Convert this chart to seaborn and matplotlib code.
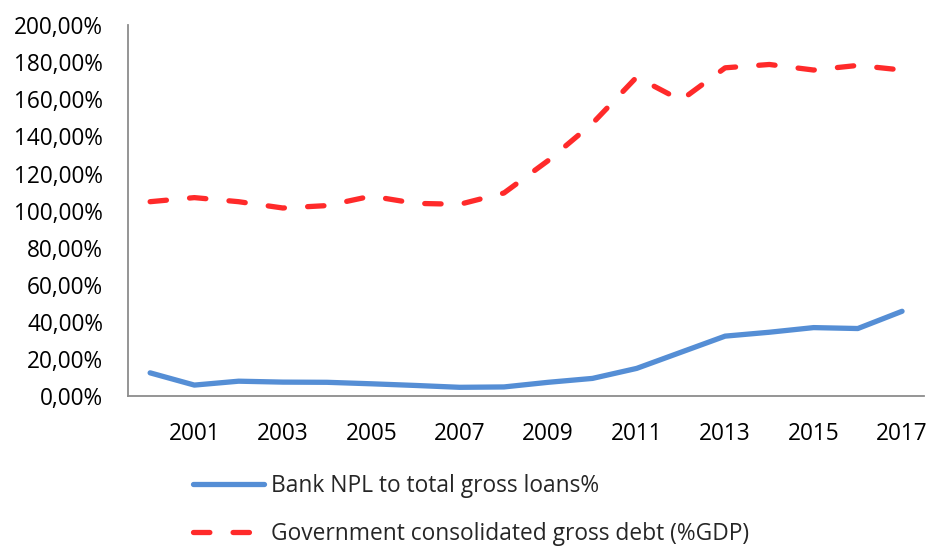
import matplotlib
matplotlib.use("Agg")
import matplotlib.pyplot as plt
import seaborn as sns
import pandas as pd

years = list(range(2000, 2018))
npl = [12.5, 5.9, 8.0, 7.5, 7.4, 6.6, 5.7, 4.7, 4.9, 7.4, 9.5, 14.9, 23.6, 32.3, 34.4, 36.9, 36.4, 45.7]
debt = [104.8, 107.0, 104.8, 101.4, 102.7, 107.8, 103.9, 103.4, 109.5, 127.0, 147.0, 172.0, 159.5, 177.0, 178.8, 175.8, 178.3, 175.8]
label_npl = "Bank NPL to total gross loans%"
label_debt = "Government consolidated gross debt (%GDP)"
yticks = [0, 20, 40, 60, 80, 100, 120, 140, 160, 180, 200]
xticks = [2001, 2003, 2005, 2007, 2009, 2011, 2013, 2015, 2017]

df = pd.DataFrame({"year": years, "npl": npl, "debt": debt})

sns.set_style("white")
plt.rcParams["font.family"] = ["Open Sans", "DejaVu Sans"]

fig = plt.figure(figsize=(9.29, 5.47), dpi=100)
ax = fig.add_axes([0.1378, 0.276, 0.857, 0.678])

sns.lineplot(data=df, x="year", y="npl", ax=ax, color="#558ED5", linewidth=3.8,
             solid_capstyle="round", label=label_npl, legend=False)
sns.lineplot(data=df, x="year", y="debt", ax=ax, color="#FF2A2A", linewidth=3.8,
             linestyle=(0, (3.1, 4.4)), dash_capstyle="round", label=label_debt, legend=False)

ax.set_xlim(1999.5, 2017.5)
ax.set_ylim(0, 200)
ax.set_xticks(xticks)
ax.set_xticklabels([str(x) for x in xticks])
ax.set_yticks(yticks)
ax.set_yticklabels([f"{v:.2f}%".replace(".", ",") for v in yticks])
ax.set_xlabel("")
ax.set_ylabel("")
ax.tick_params(axis="both", length=0, labelsize=16.3, colors="black")
ax.tick_params(axis="x", pad=19)
ax.tick_params(axis="y", pad=18)
for s in ["top", "right"]:
    ax.spines[s].set_visible(False)
for s in ["left", "bottom"]:
    ax.spines[s].set_color("#8c8c8c")
    ax.spines[s].set_linewidth(1.3)
ax.grid(False)

fig.legend(handles=ax.lines[:2], labels=[label_npl, label_debt], loc="upper left",
           bbox_to_anchor=(0.208, 0.133), bbox_transform=fig.transFigure,
           frameon=False, fontsize=16.4, handlelength=3.1, handletextpad=0.3,
           labelspacing=1.05, borderaxespad=0, borderpad=0)

fig.savefig("out.png", dpi=100)
